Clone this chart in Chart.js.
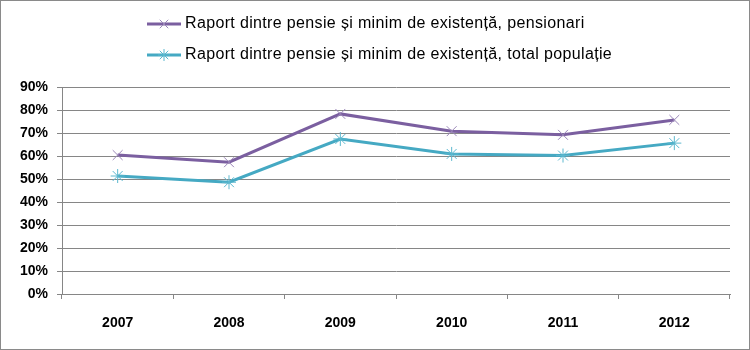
<!DOCTYPE html>
<html>
<head>
<meta charset="utf-8">
<script src="https://cdn.jsdelivr.net/npm/chart.js@4"></script>
<style>
  html, body { margin: 0; padding: 0; background: #fff; }
  #wrap { width: 748px; height: 348px; border: 1px solid #8a8a8a; position: relative; }
</style>
</head>
<body>
<div id="wrap"><canvas id="chart" width="748" height="348"></canvas></div>
<script>
// Data
const years = ["2007", "2008", "2009", "2010", "2011", "2012"];
const pensionari = [60.4, 57.3, 78.3, 70.8, 69.2, 75.7];
const totalPopulatie = [51.3, 48.6, 67.4, 60.9, 60.2, 65.6];
const seriesLabels = [
  "Raport dintre pensie și minim de existență, pensionari",
  "Raport dintre pensie și minim de existență, total populație"
];

const purple = "#7b5fa0";
const teal = "#45a9c3";
const axisFont = { family: "Liberation Sans, Arial, sans-serif", size: 14, weight: "bold" };

// Legend drawn by hand: both rows start at the same x, like the original
const stackedLegend = {
  id: "stackedLegend",
  afterDraw(chart) {
    const ctx = chart.ctx;
    const rowsY = [23, 54];
    const lineX = 146, lineW = 34, textX = 184;
    ctx.save();
    chart.data.datasets.forEach((ds, i) => {
      const y = rowsY[i];
      ctx.strokeStyle = ds.borderColor;
      ctx.lineWidth = 3;
      ctx.beginPath();
      ctx.moveTo(lineX, y);
      ctx.lineTo(lineX + lineW, y);
      ctx.stroke();
      ctx.strokeStyle = ds.pointBorderColor;
      ctx.lineWidth = 1;
      Chart.helpers.drawPoint(ctx, { pointStyle: ds.pointStyle, radius: 6, borderWidth: 1 },
        lineX + lineW / 2, y);
      ctx.fillStyle = "#000";
      ctx.font = "16px 'Liberation Sans', Arial, sans-serif";
      ctx.letterSpacing = "0.35px";
      ctx.textBaseline = "middle";
      ctx.textAlign = "left";
      ctx.fillText(ds.label, textX, y);
    });
    ctx.restore();
  }
};

const commonDs = {
  borderWidth: 3,
  pointRadius: 7,
  pointHoverRadius: 7,
  pointBorderWidth: 1,
  tension: 0,
  fill: false
};

new Chart(document.getElementById("chart"), {
  type: "line",
  data: {
    labels: years,
    datasets: [
      Object.assign({}, commonDs, {
        label: seriesLabels[0],
        data: pensionari,
        borderColor: purple,
        backgroundColor: purple,
        pointBorderColor: "#9a86b8",
        pointStyle: "crossRot"
      }),
      Object.assign({}, commonDs, {
        label: seriesLabels[1],
        data: totalPopulatie,
        borderColor: teal,
        backgroundColor: teal,
        pointBorderColor: "#5cb8cf",
        pointStyle: "star"
      })
    ]
  },
  options: {
    responsive: false,
    animation: false,
    layout: { padding: { left: 0, right: 19, top: 86, bottom: 0 } },
    plugins: {
      tooltip: { enabled: false },
      legend: { display: false }
    },
    scales: {
      x: {
        offset: true,
        afterFit: s => { s.height = 55; },
        grid: {
          offset: true,
          drawOnChartArea: false,
          drawTicks: true,
          tickLength: 5,
          color: "#868686"
        },
        border: { color: "#868686", width: 1 },
        ticks: { color: "#000", padding: 16, font: axisFont }
      },
      y: {
        min: 0,
        max: 90,
        afterFit: s => { s.width = 61; },
        grid: { color: "#868686", drawTicks: true, tickLength: 5 },
        border: { color: "#868686", width: 1 },
        ticks: {
          stepSize: 10,
          color: "#000",
          padding: 9,
          font: axisFont,
          callback: v => v + "%"
        }
      }
    }
  },
  plugins: [stackedLegend]
});
</script>
</body>
</html>
